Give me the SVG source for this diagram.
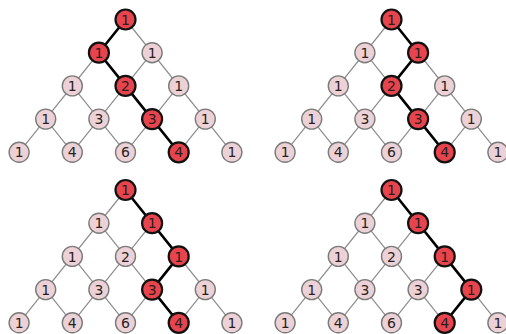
<svg xmlns="http://www.w3.org/2000/svg" xmlns:xlink="http://www.w3.org/1999/xlink" width="506" height="334" viewBox="0 0 506 334">
<style>
.lat{fill:none;stroke:#8c8c8c;stroke-width:1.2}
.hp{fill:none;stroke:#000;stroke-width:2.6;stroke-linejoin:round}
.n circle{fill:#ecd2d7;stroke:#7a7a7a;stroke-width:1.4}
.n.on circle{fill:#e8444d;stroke:#111;stroke-width:2.2}
.n text{font-family:"DejaVu Sans",sans-serif;font-size:14px;fill:#2a1e20;text-anchor:middle}
</style>
<defs>
<path id="lattice" d="M0,0 L-106.4,132.8 M26.6,33.2 L-53.2,132.8 M53.2,66.4 L0,132.8 M79.8,99.6 L53.2,132.8 M0,0 L106.4,132.8 M-26.6,33.2 L53.2,132.8 M-53.2,66.4 L0,132.8 M-79.8,99.6 L-53.2,132.8"/>
</defs>
<rect width="506" height="334" fill="#fff"/>
<g id="connectors">
<g transform="translate(125.5,19.5)"><use xlink:href="#lattice" class="lat"/><polyline class="hp" points="0,0 -26.6,33.2 0,66.4 26.6,99.6 53.2,132.8"/></g>
<g transform="translate(391.5,19.5)"><use xlink:href="#lattice" class="lat"/><polyline class="hp" points="0,0 26.6,33.2 0,66.4 26.6,99.6 53.2,132.8"/></g>
<g transform="translate(125.5,190)"><use xlink:href="#lattice" class="lat"/><polyline class="hp" points="0,0 26.6,33.2 53.2,66.4 26.6,99.6 53.2,132.8"/></g>
<g transform="translate(391.5,190)"><use xlink:href="#lattice" class="lat"/><polyline class="hp" points="0,0 26.6,33.2 53.2,66.4 79.8,99.6 53.2,132.8"/></g>
</g>
<g id="panel-tl" transform="translate(125.5,19.5)">
<g id="tl-0-0" class="n on" transform="translate(0,0)"><circle r="10"/><text y="5.1">1</text></g>
<g id="tl-1-0" class="n on" transform="translate(-26.6,33.2)"><circle r="10"/><text y="5.1">1</text></g>
<g id="tl-1-1" class="n" transform="translate(26.6,33.2)"><circle r="10"/><text y="5.1">1</text></g>
<g id="tl-2-0" class="n" transform="translate(-53.2,66.4)"><circle r="10"/><text y="5.1">1</text></g>
<g id="tl-2-1" class="n on" transform="translate(0,66.4)"><circle r="10"/><text y="5.1">2</text></g>
<g id="tl-2-2" class="n" transform="translate(53.2,66.4)"><circle r="10"/><text y="5.1">1</text></g>
<g id="tl-3-0" class="n" transform="translate(-79.8,99.6)"><circle r="10"/><text y="5.1">1</text></g>
<g id="tl-3-1" class="n" transform="translate(-26.6,99.6)"><circle r="10"/><text y="5.1">3</text></g>
<g id="tl-3-2" class="n on" transform="translate(26.6,99.6)"><circle r="10"/><text y="5.1">3</text></g>
<g id="tl-3-3" class="n" transform="translate(79.8,99.6)"><circle r="10"/><text y="5.1">1</text></g>
<g id="tl-4-0" class="n" transform="translate(-106.4,132.8)"><circle r="10"/><text y="5.1">1</text></g>
<g id="tl-4-1" class="n" transform="translate(-53.2,132.8)"><circle r="10"/><text y="5.1">4</text></g>
<g id="tl-4-2" class="n" transform="translate(0,132.8)"><circle r="10"/><text y="5.1">6</text></g>
<g id="tl-4-3" class="n on" transform="translate(53.2,132.8)"><circle r="10"/><text y="5.1">4</text></g>
<g id="tl-4-4" class="n" transform="translate(106.4,132.8)"><circle r="10"/><text y="5.1">1</text></g>
</g>
<g id="panel-tr" transform="translate(391.5,19.5)">
<g id="tr-0-0" class="n on" transform="translate(0,0)"><circle r="10"/><text y="5.1">1</text></g>
<g id="tr-1-0" class="n" transform="translate(-26.6,33.2)"><circle r="10"/><text y="5.1">1</text></g>
<g id="tr-1-1" class="n on" transform="translate(26.6,33.2)"><circle r="10"/><text y="5.1">1</text></g>
<g id="tr-2-0" class="n" transform="translate(-53.2,66.4)"><circle r="10"/><text y="5.1">1</text></g>
<g id="tr-2-1" class="n on" transform="translate(0,66.4)"><circle r="10"/><text y="5.1">2</text></g>
<g id="tr-2-2" class="n" transform="translate(53.2,66.4)"><circle r="10"/><text y="5.1">1</text></g>
<g id="tr-3-0" class="n" transform="translate(-79.8,99.6)"><circle r="10"/><text y="5.1">1</text></g>
<g id="tr-3-1" class="n" transform="translate(-26.6,99.6)"><circle r="10"/><text y="5.1">3</text></g>
<g id="tr-3-2" class="n on" transform="translate(26.6,99.6)"><circle r="10"/><text y="5.1">3</text></g>
<g id="tr-3-3" class="n" transform="translate(79.8,99.6)"><circle r="10"/><text y="5.1">1</text></g>
<g id="tr-4-0" class="n" transform="translate(-106.4,132.8)"><circle r="10"/><text y="5.1">1</text></g>
<g id="tr-4-1" class="n" transform="translate(-53.2,132.8)"><circle r="10"/><text y="5.1">4</text></g>
<g id="tr-4-2" class="n" transform="translate(0,132.8)"><circle r="10"/><text y="5.1">6</text></g>
<g id="tr-4-3" class="n on" transform="translate(53.2,132.8)"><circle r="10"/><text y="5.1">4</text></g>
<g id="tr-4-4" class="n" transform="translate(106.4,132.8)"><circle r="10"/><text y="5.1">1</text></g>
</g>
<g id="panel-bl" transform="translate(125.5,190)">
<g id="bl-0-0" class="n on" transform="translate(0,0)"><circle r="10"/><text y="5.1">1</text></g>
<g id="bl-1-0" class="n" transform="translate(-26.6,33.2)"><circle r="10"/><text y="5.1">1</text></g>
<g id="bl-1-1" class="n on" transform="translate(26.6,33.2)"><circle r="10"/><text y="5.1">1</text></g>
<g id="bl-2-0" class="n" transform="translate(-53.2,66.4)"><circle r="10"/><text y="5.1">1</text></g>
<g id="bl-2-1" class="n" transform="translate(0,66.4)"><circle r="10"/><text y="5.1">2</text></g>
<g id="bl-2-2" class="n on" transform="translate(53.2,66.4)"><circle r="10"/><text y="5.1">1</text></g>
<g id="bl-3-0" class="n" transform="translate(-79.8,99.6)"><circle r="10"/><text y="5.1">1</text></g>
<g id="bl-3-1" class="n" transform="translate(-26.6,99.6)"><circle r="10"/><text y="5.1">3</text></g>
<g id="bl-3-2" class="n on" transform="translate(26.6,99.6)"><circle r="10"/><text y="5.1">3</text></g>
<g id="bl-3-3" class="n" transform="translate(79.8,99.6)"><circle r="10"/><text y="5.1">1</text></g>
<g id="bl-4-0" class="n" transform="translate(-106.4,132.8)"><circle r="10"/><text y="5.1">1</text></g>
<g id="bl-4-1" class="n" transform="translate(-53.2,132.8)"><circle r="10"/><text y="5.1">4</text></g>
<g id="bl-4-2" class="n" transform="translate(0,132.8)"><circle r="10"/><text y="5.1">6</text></g>
<g id="bl-4-3" class="n on" transform="translate(53.2,132.8)"><circle r="10"/><text y="5.1">4</text></g>
<g id="bl-4-4" class="n" transform="translate(106.4,132.8)"><circle r="10"/><text y="5.1">1</text></g>
</g>
<g id="panel-br" transform="translate(391.5,190)">
<g id="br-0-0" class="n on" transform="translate(0,0)"><circle r="10"/><text y="5.1">1</text></g>
<g id="br-1-0" class="n" transform="translate(-26.6,33.2)"><circle r="10"/><text y="5.1">1</text></g>
<g id="br-1-1" class="n on" transform="translate(26.6,33.2)"><circle r="10"/><text y="5.1">1</text></g>
<g id="br-2-0" class="n" transform="translate(-53.2,66.4)"><circle r="10"/><text y="5.1">1</text></g>
<g id="br-2-1" class="n" transform="translate(0,66.4)"><circle r="10"/><text y="5.1">2</text></g>
<g id="br-2-2" class="n on" transform="translate(53.2,66.4)"><circle r="10"/><text y="5.1">1</text></g>
<g id="br-3-0" class="n" transform="translate(-79.8,99.6)"><circle r="10"/><text y="5.1">1</text></g>
<g id="br-3-1" class="n" transform="translate(-26.6,99.6)"><circle r="10"/><text y="5.1">3</text></g>
<g id="br-3-2" class="n" transform="translate(26.6,99.6)"><circle r="10"/><text y="5.1">3</text></g>
<g id="br-3-3" class="n on" transform="translate(79.8,99.6)"><circle r="10"/><text y="5.1">1</text></g>
<g id="br-4-0" class="n" transform="translate(-106.4,132.8)"><circle r="10"/><text y="5.1">1</text></g>
<g id="br-4-1" class="n" transform="translate(-53.2,132.8)"><circle r="10"/><text y="5.1">4</text></g>
<g id="br-4-2" class="n" transform="translate(0,132.8)"><circle r="10"/><text y="5.1">6</text></g>
<g id="br-4-3" class="n on" transform="translate(53.2,132.8)"><circle r="10"/><text y="5.1">4</text></g>
<g id="br-4-4" class="n" transform="translate(106.4,132.8)"><circle r="10"/><text y="5.1">1</text></g>
</g>
</svg>
